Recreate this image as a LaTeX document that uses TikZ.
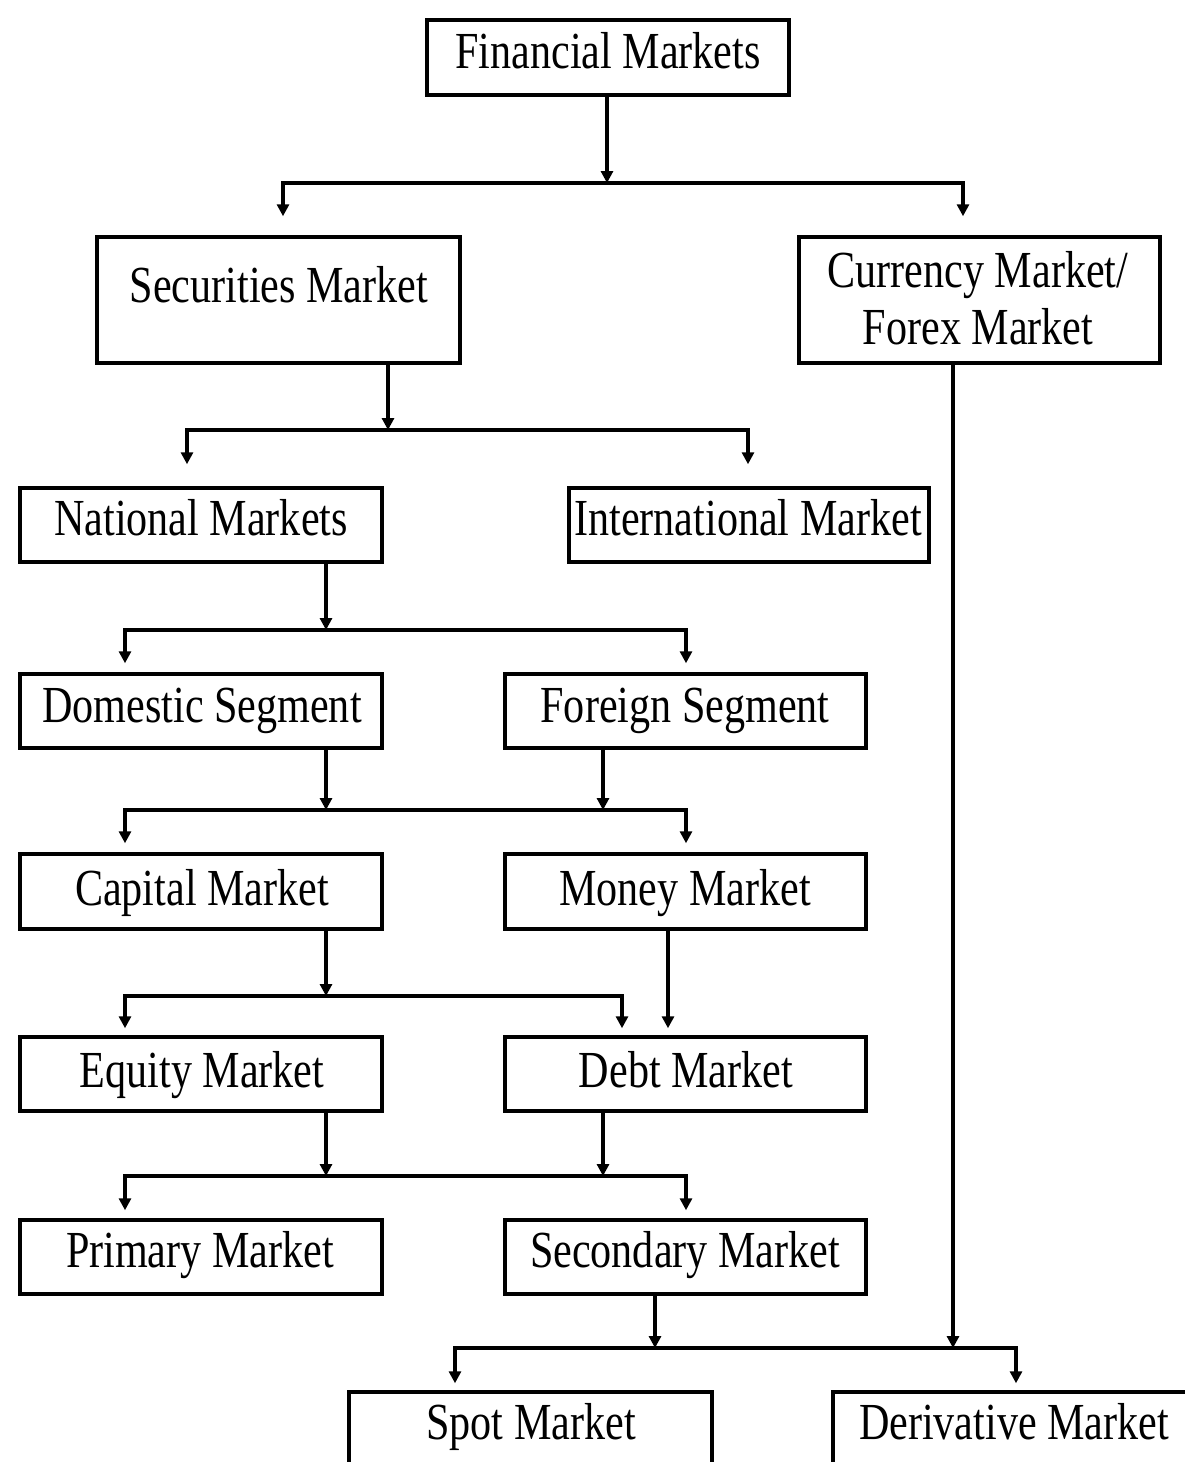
\documentclass[tikz,border=0pt]{standalone}
\usepackage{fontspec}
\setmainfont{Liberation Serif}[FakeStretch=0.81]
\usetikzlibrary{arrows.meta}
\begin{document}
\begin{tikzpicture}[x=1pt,y=-1pt,
  box/.style={draw, line width=3.5pt, rectangle, inner sep=0pt},
  lbl/.style={anchor=base, font=\fontsize{52}{60}\selectfont, inner sep=0pt},
  conn/.style={line width=3.5pt},
  arr/.style={line width=3.5pt, -{Triangle[length=12pt,width=12pt]}},
  arrs/.style={line width=3.5pt, {Triangle[length=12pt,width=12pt]}-{Triangle[length=12pt,width=12pt]}}]
\useasboundingbox[fill=white] (0,0) rectangle (1185,1462);
% boxes
\node[box, minimum width=362pt, minimum height=75pt] (fm) at (608,57.5) {};
\node[box, minimum width=363pt, minimum height=126pt] (sec) at (278.5,300) {};
\node[box, minimum width=361pt, minimum height=126pt] (cur) at (979.5,300) {};
\node[box, minimum width=362pt, minimum height=74pt] (nat) at (201,525) {};
\node[box, minimum width=360pt, minimum height=74pt] (intl) at (749,525) {};
\node[box, minimum width=362pt, minimum height=74pt] (dom) at (201,711) {};
\node[box, minimum width=361pt, minimum height=74pt] (for) at (685.5,711) {};
\node[box, minimum width=362pt, minimum height=75pt] (cap) at (201,891.5) {};
\node[box, minimum width=361pt, minimum height=75pt] (mon) at (685.5,891.5) {};
\node[box, minimum width=362pt, minimum height=74pt] (eq) at (201,1074) {};
\node[box, minimum width=361pt, minimum height=74pt] (debt) at (685.5,1074) {};
\node[box, minimum width=362pt, minimum height=74pt] (pri) at (201,1257) {};
\node[box, minimum width=361pt, minimum height=74pt] (sm) at (685.5,1257) {};
\node[box, minimum width=363pt, minimum height=108pt] (spot) at (530.5,1446) {};
\node[box, minimum width=387pt, minimum height=108pt] (der) at (1026.5,1446) {};
% labels
\node[lbl] (tfm) at (608,68) {Financial Markets};
\node[lbl] (tsec) at (279,302) {Securities Market};
\node[lbl] (tcur1) at (978,287) {Currency Market/};
\node[lbl] (tcur2) at (978,344) {Forex Market};
\node[lbl] (tnat) at (201,535) {National Markets};
\node[lbl] (tintl) at (748,535) {International Market};
\node[lbl] (tdom) at (202,722) {Domestic Segment};
\node[lbl] (tfor) at (685,722) {Foreign Segment};
\node[lbl] (tcap) at (202,905) {Capital Market};
\node[lbl] (tmon) at (685,905) {Money Market};
\node[lbl] (teq) at (202,1087) {Equity Market};
\node[lbl] (tdebt) at (686,1087) {Debt Market};
\node[lbl] (tpri) at (200,1267) {Primary Market};
\node[lbl] (tsm) at (685,1267) {Secondary Market};
\node[lbl] (tspot) at (531,1439) {Spot Market};
\node[lbl] (tder) at (1014,1439) {Derivative Market};
% bar coordinates
\coordinate (b1m) at (607,183); \coordinate (b1l) at (283,183); \coordinate (b1r) at (963,183);
\coordinate (b2m) at (388,430); \coordinate (b2l) at (187,430); \coordinate (b2r) at (748,430);
\coordinate (b3m) at (326,630); \coordinate (b3l) at (125,630); \coordinate (b3r) at (686,630);
\coordinate (b4a) at (326,810); \coordinate (b4b) at (603,810); \coordinate (b4l) at (125,810); \coordinate (b4r) at (686,810);
\coordinate (b5a) at (326,996); \coordinate (b5l) at (125,996); \coordinate (b5r) at (622,996); \coordinate (mx) at (668,996);
\coordinate (b6a) at (326,1176); \coordinate (b6b) at (603,1176); \coordinate (b6l) at (125,1176); \coordinate (b6r) at (686,1176);
\coordinate (b7a) at (655,1348); \coordinate (b7b) at (953,1348); \coordinate (b7l) at (455,1348); \coordinate (b7r) at (1016,1348);
% level 1
\draw[arr] (fm.south -| b1m) -- (b1m);
\draw[arrs, shorten <=19pt, shorten >=19pt] (b1l |- sec.north) -- (b1l) -- (b1r) -- (b1r |- cur.north);
% level 2
\draw[arr] (sec.south -| b2m) -- (b2m);
\draw[arrs, shorten <=22pt, shorten >=22pt] (b2l |- nat.north) -- (b2l) -- (b2r) -- (b2r |- intl.north);
% level 3
\draw[arr] (nat.south -| b3m) -- (b3m);
\draw[arrs, shorten <=9pt, shorten >=9pt] (b3l |- dom.north) -- (b3l) -- (b3r) -- (b3r |- for.north);
% level 4
\draw[arr] (dom.south -| b4a) -- (b4a);
\draw[arr] (for.south -| b4b) -- (b4b);
\draw[arrs, shorten <=9pt, shorten >=9pt] (b4l |- cap.north) -- (b4l) -- (b4r) -- (b4r |- mon.north);
% level 5
\draw[arr] (cap.south -| b5a) -- (b5a);
\draw[arrs, shorten <=7pt, shorten >=7pt] (b5l |- eq.north) -- (b5l) -- (b5r) -- (b5r |- debt.north);
\draw[arr, shorten >=7pt] (mon.south -| mx) -- (debt.north -| mx);
% level 6
\draw[arr] (eq.south -| b6a) -- (b6a);
\draw[arr] (debt.south -| b6b) -- (b6b);
\draw[arrs, shorten <=8pt, shorten >=8pt] (b6l |- pri.north) -- (b6l) -- (b6r) -- (b6r |- sm.north);
% level 7
\draw[arr] (sm.south -| b7a) -- (b7a);
\draw[arr] (cur.south -| b7b) -- (b7b);
\draw[arrs, shorten <=7pt, shorten >=7pt] (b7l |- spot.north) -- (b7l) -- (b7r) -- (b7r |- der.north);
\end{tikzpicture}
\end{document}
